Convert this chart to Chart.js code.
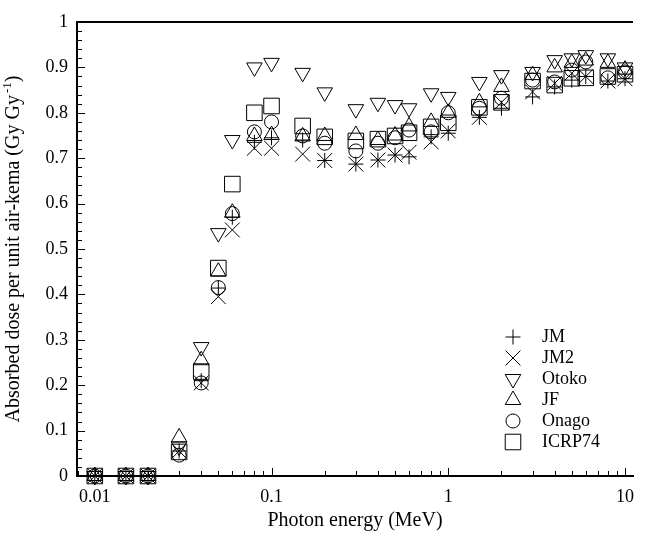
<!DOCTYPE html>
<html>
<head>
<meta charset="utf-8">
<script src="https://cdn.jsdelivr.net/npm/chart.js@4.4.1/dist/chart.umd.min.js"></script>
<style>
  html, body { margin: 0; padding: 0; background: #fff; }
</style>
</head>
<body>
<canvas id="chart" width="645" height="536"></canvas>
<script>
// photon energies (MeV)
const energies = [0.01, 0.015, 0.02, 0.03, 0.04, 0.05, 0.06, 0.08, 0.1, 0.15, 0.2, 0.3, 0.4, 0.5, 0.6, 0.8, 1, 1.5, 2, 3, 4, 5, 6, 8, 10];

// absorbed dose per unit air-kerma (Gy/Gy)
const jm     = [0, 0, 0, 0.055, 0.21, 0.414, 0.57, 0.735, 0.745, 0.74, 0.695, 0.687, 0.696, 0.707, 0.703, 0.747, 0.755, 0.79, 0.81, 0.835, 0.857, 0.872, 0.88, 0.87, 0.875];
const jm2    = [0, 0, 0, 0.055, 0.205, 0.395, 0.542, 0.722, 0.722, 0.709, 0.695, 0.687, 0.696, 0.707, 0.713, 0.736, 0.76, 0.79, 0.823, 0.846, 0.865, 0.887, 0.88, 0.87, 0.875];
const otoko  = [0, 0, 0, 0.065, 0.284, 0.535, 0.74, 0.9, 0.91, 0.888, 0.845, 0.808, 0.822, 0.817, 0.81, 0.843, 0.835, 0.868, 0.883, 0.89, 0.916, 0.92, 0.927, 0.92, 0.9];
const jf     = [0, 0, 0, 0.085, 0.255, 0.45, 0.58, 0.749, 0.751, 0.748, 0.749, 0.751, 0.74, 0.75, 0.77, 0.78, 0.8, 0.823, 0.857, 0.883, 0.9, 0.91, 0.915, 0.91, 0.895];
const onago  = [0, 0, 0, 0.046, 0.205, 0.415, 0.578, 0.758, 0.78, 0.749, 0.733, 0.716, 0.733, 0.745, 0.762, 0.758, 0.8, 0.81, 0.832, 0.872, 0.868, 0.894, 0.912, 0.877, 0.89];
const icrp74 = [0, 0, 0, 0.053, 0.23, 0.458, 0.643, 0.8, 0.815, 0.771, 0.747, 0.738, 0.742, 0.749, 0.756, 0.769, 0.778, 0.812, 0.823, 0.87, 0.861, 0.876, 0.877, 0.88, 0.885];

const seriesNames = ['JM', 'JM2', 'Otoko', 'JF', 'Onago', 'ICRP74'];
const seriesValues = [jm, jm2, otoko, jf, onago, icrp74];
const xTickLabels = [0.01, 0.1, 1, 10];
const yTickLabels = ['0', '0.1', '0.2', '0.3', '0.4', '0.5', '0.6', '0.7', '0.8', '0.9', '1'];

const FONT = 'Liberation Serif';

// marker look for each series
const markers = [
  { pointStyle: 'cross',    radius: 7.5, rotation: 0 },
  { pointStyle: 'crossRot', radius: 10.5, rotation: 0 },
  { pointStyle: 'triangle', radius: 9,   rotation: 180 },
  { pointStyle: 'triangle', radius: 9,   rotation: 0 },
  { pointStyle: 'circle',   radius: 7,   rotation: 0 },
  { pointStyle: 'rect',     radius: 11,  rotation: 0 }
];

const datasets = seriesNames.map((name, i) => ({
  label: name,
  data: energies.map((e, j) => ({ x: e, y: seriesValues[i][j] })),
  pointStyle: markers[i].pointStyle,
  pointRadius: markers[i].radius,
  pointRotation: markers[i].rotation,
  pointBorderColor: '#000',
  pointBackgroundColor: 'rgba(0,0,0,0)',
  pointBorderWidth: 1,
  showLine: false,
  clip: false
}));

// inward tick marks, top frame line, y title with superscript, legend
const decorPlugin = {
  id: 'decor',
  afterDraw(chart) {
    const { ctx, chartArea: a, scales: { x, y } } = chart;
    ctx.save();
    ctx.strokeStyle = '#000';
    ctx.lineWidth = 1;
    ctx.beginPath();
    for (let k = 0; k <= 50; k++) {
      const py = Math.round(y.getPixelForValue(k / 50)) + 0.5;
      const len = k % 5 === 0 ? 8 : 5;
      ctx.moveTo(a.left, py);
      ctx.lineTo(a.left + len, py);
    }
    for (let p = -3; p <= 1; p++) {
      for (let m = 1; m <= 9; m++) {
        const v = m * Math.pow(10, p);
        if (v < x.min || v > x.max) continue;
        const px = Math.round(x.getPixelForValue(v)) + 0.5;
        const len = m === 1 ? 8 : 5;
        ctx.moveTo(px, a.bottom);
        ctx.lineTo(px, a.bottom - len);
      }
    }
    ctx.stroke();

    ctx.lineWidth = 2;
    ctx.beginPath();
    ctx.moveTo(a.left - 1, a.top);
    ctx.lineTo(a.right, a.top);
    ctx.stroke();

    // y axis title
    const main = 'Absorbed dose per unit air-kema (Gy Gy';
    const sup = '-1';
    const tail = ')';
    ctx.fillStyle = '#000';
    ctx.font = '20px "' + FONT + '"';
    const wMain = ctx.measureText(main).width;
    const wTail = ctx.measureText(tail).width;
    ctx.font = '13px "' + FONT + '"';
    const wSup = ctx.measureText(sup).width;
    const total = wMain + wSup + wTail + 2;
    ctx.translate(14, (a.top + a.bottom) / 2);
    ctx.rotate(-Math.PI / 2);
    ctx.textBaseline = 'middle';
    ctx.textAlign = 'left';
    let tx = -total / 2;
    ctx.font = '20px "' + FONT + '"';
    ctx.fillText(main, tx, 0);
    tx += wMain + 2;
    ctx.font = '13px "' + FONT + '"';
    ctx.fillText(sup, tx, -6);
    tx += wSup;
    ctx.font = '20px "' + FONT + '"';
    ctx.fillText(tail, tx, 0);
    ctx.restore();

    // legend
    ctx.save();
    ctx.strokeStyle = '#000';
    ctx.fillStyle = 'rgba(0,0,0,0)';
    ctx.lineWidth = 1;
    chart.data.datasets.forEach((ds, i) => {
      const ly = 337 + i * 21;
      Chart.helpers.drawPoint(ctx, {
        pointStyle: ds.pointStyle,
        radius: ds.pointRadius,
        rotation: ds.pointRotation,
        borderWidth: 1
      }, 513, ly);
    });
    ctx.fillStyle = '#000';
    ctx.font = '18px "' + FONT + '"';
    ctx.textBaseline = 'middle';
    ctx.textAlign = 'left';
    chart.data.datasets.forEach((ds, i) => {
      ctx.fillText(ds.label, 542, 337 + i * 21);
    });
    ctx.restore();
  }
};

new Chart(document.getElementById('chart'), {
  type: 'scatter',
  data: { datasets },
  options: {
    responsive: false,
    animation: false,
    layout: { padding: { top: 22, right: 4, left: 0, bottom: 0 } },
    plugins: { legend: { display: false }, tooltip: { enabled: false } },
    scales: {
      x: {
        type: 'logarithmic',
        min: 0.00793,
        max: 11.1,
        afterFit: (s) => { s.height = 60; },
        afterBuildTicks: (s) => { s.ticks = xTickLabels.map(v => ({ value: v })); },
        grid: { display: false, drawTicks: false },
        border: { display: true, color: '#000', width: 2 },
        ticks: {
          color: '#000',
          padding: 10,
          maxRotation: 0,
          autoSkip: false,
          font: { family: FONT, size: 18 },
          callback: (v) => String(v)
        },
        title: {
          display: true,
          text: 'Photon energy (MeV)',
          color: '#000',
          font: { family: FONT, size: 20 },
          padding: { top: 0, bottom: 3 }
        }
      },
      y: {
        min: 0,
        max: 1,
        afterFit: (s) => { s.width = 77; },
        grid: { display: false, drawTicks: false },
        border: { display: true, color: '#000', width: 2 },
        ticks: {
          stepSize: 0.1,
          color: '#000',
          padding: 9,
          font: { family: FONT, size: 18 },
          callback: (v, i) => yTickLabels[i]
        }
      }
    }
  },
  plugins: [decorPlugin]
});
</script>
</body>
</html>
